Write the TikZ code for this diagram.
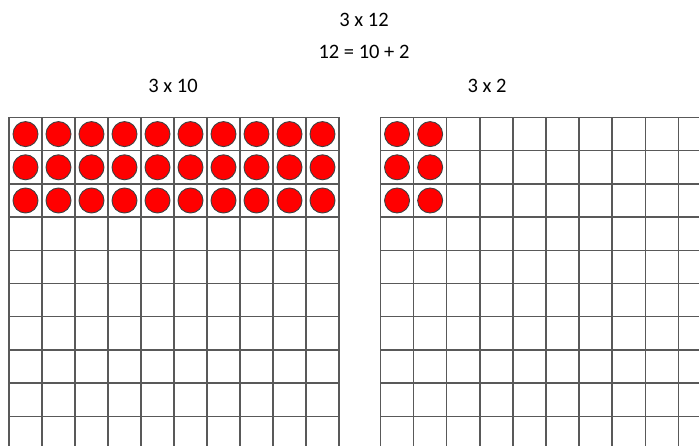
\documentclass[tikz,border=0pt]{standalone}
\usepackage{fontspec}
\setmainfont{Carlito}
\usepackage{tikz}
\usetikzlibrary{positioning}

\begin{document}
\begin{tikzpicture}[x=1pt,y=-1pt,
    gridline/.style={line width=1.5pt,draw=black!65},
    counter/.style={fill=red,draw=black!75,line width=0.9pt},
    lbl/.style={font=\fontsize{20.5}{24}\selectfont,inner sep=1pt}]
  \useasboundingbox (0,0) rectangle (699,446);
  \clip (0,0) rectangle (699,446);
  \node[lbl] (title) at (364,20) {3 x 12};
  \node[lbl] (split) at (364,52) {12 = 10 + 2};
  \node[lbl] (lefthead) at (173,86) {3 x 10};
  \node[lbl] (righthead) at (487,86) {3 x 2};
  % linkes Feld: 10 Spalten
  \foreach \i in {0,...,10}
    \draw[gridline] (9+33*\i,117.5) -- (9+33*\i,452);
  \foreach \j in {0,...,10}
    \draw[gridline] (9,117.5+33.2*\j) -- (339,117.5+33.2*\j);
  % rechtes Feld (rechts abgeschnitten)
  \foreach \i in {0,...,10}
    \draw[gridline] (380.5+33.1*\i,117.5) -- (380.5+33.1*\i,452);
  \foreach \j in {0,...,10}
    \draw[gridline] (380.5,117.5+33.2*\j) -- (712,117.5+33.2*\j);
  % Plaettchen: 3 x 10
  \foreach \j in {0,1,2}
    \foreach \i in {0,...,9}
      \draw[counter] (25.5+33*\i,134.1+33.2*\j) circle (12.5);
  % Plaettchen: 3 x 2
  \foreach \j in {0,1,2}
    \foreach \i in {0,1}
      \draw[counter] (397.05+33.1*\i,134.1+33.2*\j) circle (12.5);
\end{tikzpicture}
\end{document}
